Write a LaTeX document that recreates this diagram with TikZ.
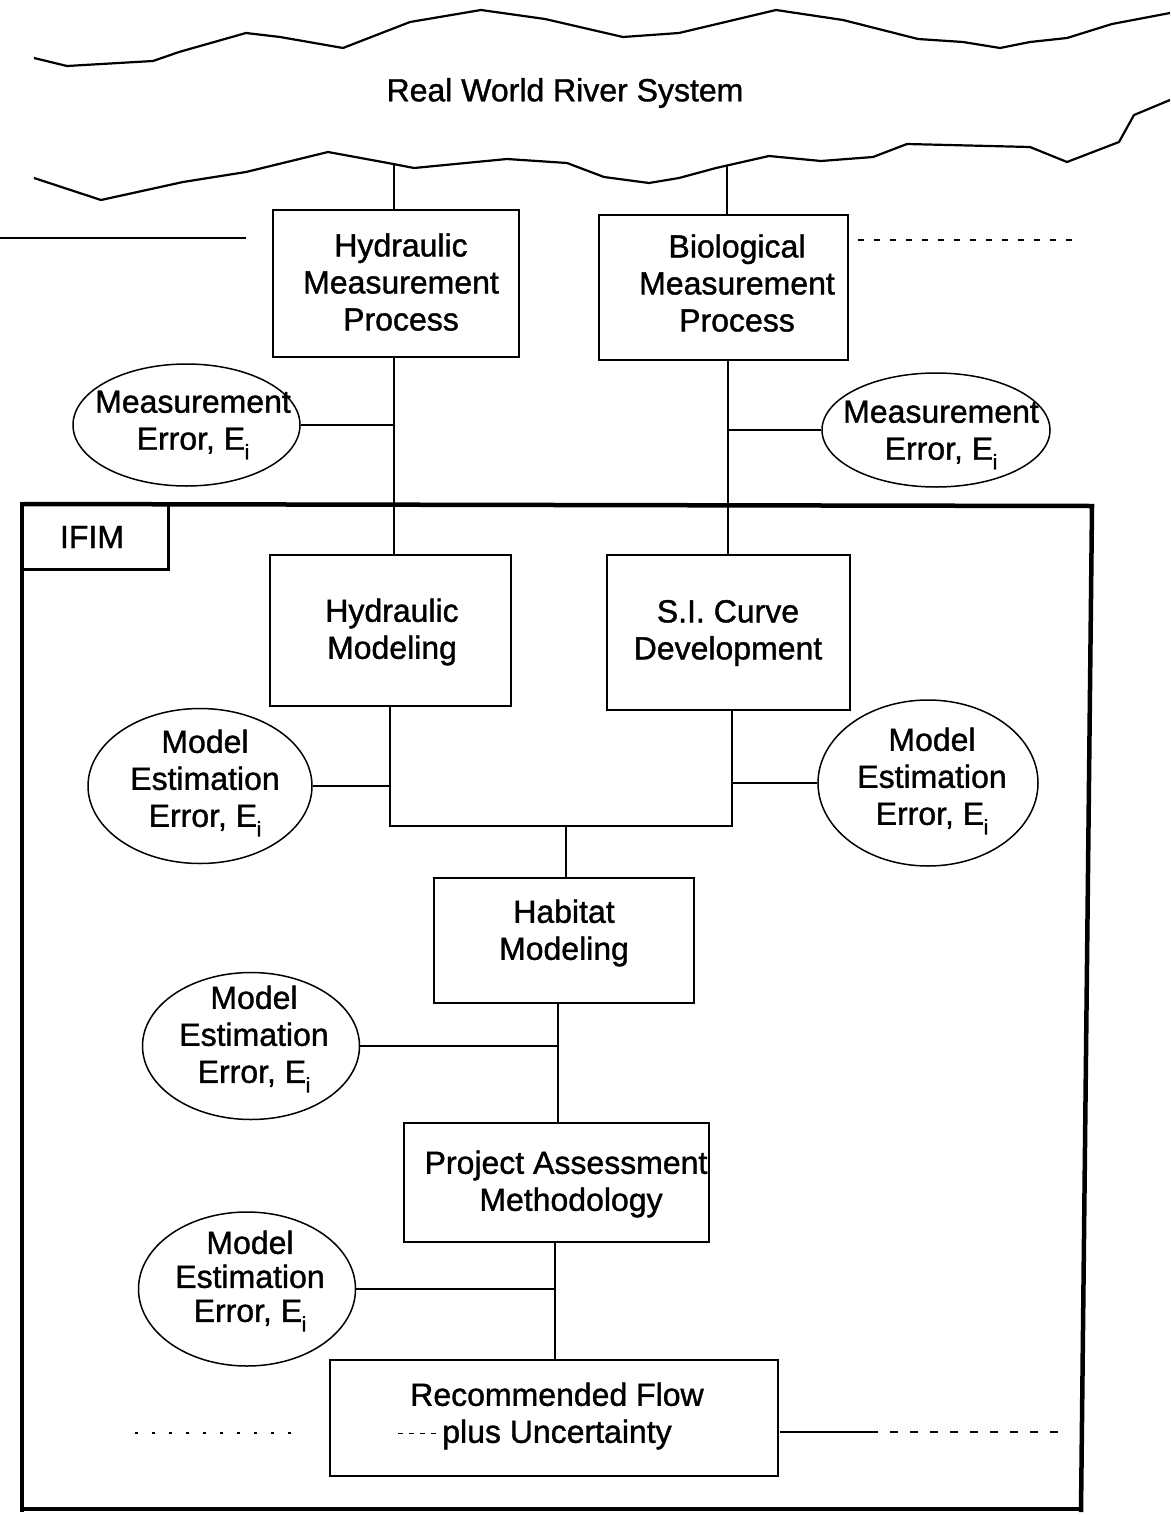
\documentclass[tikz,border=0pt]{standalone}
\usepackage{fontspec}
\setmainfont{Liberation Sans}[FakeBold=1.2]
\usetikzlibrary{shapes.geometric}
\newcommand\dfont{\fontsize{32}{37}\selectfont}
\newcommand\Ei{E\kern-0.5pt\raisebox{-0.3em}{\fontsize{21}{21}\selectfont i}}
\tikzset{
  box/.style={draw, line width=1.8pt, rectangle, inner sep=0pt},
  errell/.style={draw, line width=1.5pt, ellipse, inner sep=0pt},
  lab/.style={align=center, font=\dfont, inner sep=0pt},
  conn/.style={line width=1.5pt},
  river/.style={line width=2.2pt, line join=round},
  scanline/.style={line width=1.2pt},
  frame/.style={line width=4.5pt, line join=miter},
}
\begin{document}
\begin{tikzpicture}[x=1pt,y=-1pt]
\useasboundingbox (0,0) rectangle (1170,1515);
% river banks
\draw[river] (34,58) -- (67,66) -- (153,61) -- (179,52) -- (246,33) -- (280,37) -- (343,48) -- (410,22) -- (481,10) -- (545,19) -- (623,37) -- (679,33) -- (776,10) -- (843,20) -- (918,39) -- (963,42) -- (1000,48) -- (1030,42) -- (1067,38) -- (1112,24) -- (1170,13);
\draw[river] (34,178) -- (101,200) -- (183,182) -- (246,172) -- (328,152) -- (388,163) -- (414,168) -- (507,159) -- (567,163) -- (604,177) -- (649,183) -- (679,178) -- (716,168) -- (769,156) -- (821,161) -- (873,157) -- (907,144) -- (1030,147) -- (1067,162) -- (1119,142) -- (1134,115) -- (1170,100);
\node[lab] (river) at (565,93) {Real World River System};
% scan lines
\draw[scanline] (0,238) -- (246,238);
\draw[scanline, dash pattern=on 6pt off 10pt] (858,240) -- (1075,240);
\draw[scanline, dash pattern=on 3pt off 14pt] (135,1433) -- (300,1433);
\draw[scanline, line width=0.9pt, dash pattern=on 5pt off 6pt] (398,1433) -- (440,1433);
\draw[scanline] (780,1432) -- (870,1432);
\draw[scanline, dash pattern=on 8pt off 12pt] (870,1432) -- (1065,1432);
% column coordinates
\coordinate (cL) at (394,0);
\coordinate (cR) at (728,0);
\coordinate (c2L) at (390,0);
\coordinate (c2R) at (732,0);
\coordinate (bar) at (0,826);
\coordinate (c3) at (566,0);
\coordinate (c4) at (558,0);
\coordinate (c5) at (555,0);
\coordinate (r1) at (394,164);
\coordinate (r2) at (727,166);
% IFIM frame
\draw[frame] (22,504) -- (1092,506) -- (1081,1512);
\draw[frame] (22,502) -- (22,1512);
\draw[frame] (20,1509) -- (1083,1509);
\draw[line width=3pt] (22,504) rectangle (168,569);
\node[lab] (ifim) at (92,537) {IFIM};
% boxes
\node[box, minimum width=246pt, minimum height=147pt] (hmp) at (396,283.5) {};
\node[lab] (hmpT) at (401,282) {Hydraulic\\Measurement\\Process};
\node[box, minimum width=249pt, minimum height=145pt] (bmp) at (723.5,287.5) {};
\node[lab] (bmpT) at (737,283) {Biological\\Measurement\\Process};
\node[box, minimum width=241pt, minimum height=151pt] (hm) at (390.5,630.5) {};
\node[lab] (hmT) at (392,632) {Hydraulic\\Modeling};
\node[box, minimum width=243pt, minimum height=155pt] (si) at (728.5,632.5) {};
\node[lab] (siT) at (728,633) {S.I. Curve\\Development};
\node[box, minimum width=260pt, minimum height=125pt] (hab) at (564,940.5) {};
\node[lab] (habT) at (564,933) {Habitat\\Modeling};
\node[box, minimum width=305pt, minimum height=119pt] (pam) at (556.5,1182.5) {};
\node[lab] (pamT) at (566,1184) {Project Assessment\\\hspace*{10pt}Methodology};
\node[box, minimum width=448pt, minimum height=116pt] (rec) at (554,1418) {};
\node[lab] (recT) at (557,1416) {Recommended Flow\\plus Uncertainty};
% ellipses
\node[errell, minimum width=227pt, minimum height=122pt] (e1) at (186.5,425) {};
\node[lab] (e1T) at (193,425) {Measurement\\Error, \Ei};
\node[errell, minimum width=228pt, minimum height=114pt] (e2) at (936,430) {};
\node[lab] (e2T) at (941,435) {Measurement\\Error, \Ei};
\node[errell, minimum width=224pt, minimum height=155pt] (e3) at (200,786) {};
\node[lab] (e3T) at (205,783) {Model\\Estimation\\Error, \Ei};
\node[errell, minimum width=220pt, minimum height=166pt] (e4) at (928,783) {};
\node[lab] (e4T) at (932,781) {Model\\Estimation\\Error, \Ei};
\node[errell, minimum width=217pt, minimum height=147pt] (e5) at (251,1046) {};
\node[lab] (e5T) at (254,1039) {Model\\Estimation\\Error, \Ei};
\node[errell, minimum width=217pt, minimum height=154pt] (e6) at (247,1289) {};
\node[lab, font=\fontsize{32}{34}\selectfont] (e6T) at (250,1281) {Model\\Estimation\\Error, \Ei};
% connectors
\draw[conn] (r1) -- (hmp.north -| cL);
\draw[conn] (r2) -- (bmp.north -| r2);
\draw[conn] (hmp.south -| cL) -- (hm.north -| cL);
\draw[conn] (e1.east) -- (e1.east -| cL);
\draw[conn] (bmp.south -| cR) -- (si.north -| cR);
\draw[conn] (e2.west) -- (e2.west -| cR);
\draw[conn] (hm.south -| c2L) |- (bar -| c2R) -- (si.south -| c2R);
\draw[conn] (e3.east) -- (e3.east -| c2L);
\draw[conn] (e4.west) -- (e4.west -| c2R);
\draw[conn] (bar -| c3) -- (hab.north -| c3);
\draw[conn] (hab.south -| c4) -- (pam.north -| c4);
\draw[conn] (e5.east) -- (e5.east -| c4);
\draw[conn] (pam.south -| c5) -- (rec.north -| c5);
\draw[conn] (e6.east) -- (e6.east -| c5);
\end{tikzpicture}
\end{document}
